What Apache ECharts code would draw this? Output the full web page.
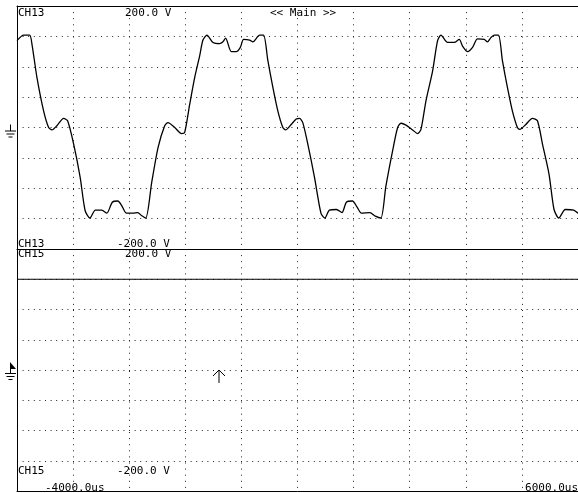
<!DOCTYPE html>
<html><head><meta charset="utf-8">
<script src="https://cdn.jsdelivr.net/npm/echarts@6/dist/echarts.min.js"></script>
<style>html,body{margin:0;padding:0;background:#fff}#c{width:578px;height:493px}</style>
</head><body><div id="c"></div>
<script>
// ---- data (time in microseconds, CH13 in volts) ----
const timeUs = [-4000,-3881,-3774,-3733,-3644,-3525,-3436,-3377,-3288,-3169,-3098,-2991,-2874,-2785,-2701,-2603,-2488,-2399,-2301,-2203,-2137,-2048,-1936,-1847,-1781,-1705,-1598,-1486,-1367,-1308,-1189,-1069,-1011,-922,-833,-744,-685,-614,-507,-388,-329,-281,-180,-91,-19,39,146,205,324,395,472,561,650,739,787,888,977,1036,1094,1183,1303,1418,1486,1570,1694,1792,1872,1979,2068,2139,2290,2388,2486,2575,2696,2785,2845,2934,3052,3141,3201,3290,3408,3497,3557,3675,3794,3883,3942,4031,4120,4209,4328,4387,4447,4506,4582,4653,4742,4831,4920,4963,5070,5188,5277,5366,5484,5573,5657,5774,5924,6000];
const ch13 = [143,152,152,137,82,27,0,-4,3,15,11,-27,-82,-137,-149,-136,-136,-141,-123,-121,-128,-141,-141,-140,-145,-149,-90,-33,3,8,0,-10,-8,38,82,118,144,152,140,138,141,147,125,125,132,145,144,141,152,152,110,66,27,0,-4,5,14,15,8,-27,-82,-141,-149,-136,-135,-140,-123,-121,-132,-141,-140,-146,-149,-97,-38,0,7,4,-4,-10,-3,44,93,143,152,140,140,145,134,125,132,146,145,141,148,152,152,110,66,27,0,-3,5,15,11,-27,-77,-135,-149,-135,-136,-141];
const ch15Time = [-4000, 6000];
const ch15 = [150, 150];
const timeMin = -4000, timeMax = 6000, timeStep = 1000;
const voltMin = -200, voltMax = 200, voltStep = 50;
const labels = {
  ch13: 'CH13', ch15: 'CH15', top: '200.0 V', bottom: '-200.0 V', main: '<< Main >>',
  tStart: '-4000.0us', tEnd: '6000.0us'
};

const chart = echarts.init(document.getElementById('c'), null, {renderer: 'canvas'});
const FONT = '"DejaVu Sans Mono", "Liberation Mono", monospace';
const dotH = {type: [1, 4.6], color: '#222', width: 1};
const dotV = {type: [1, 5.1], color: '#222', width: 1};
const solid = {show:true, lineStyle:{color:'#000', width:1}};
function xAx(i, pos, grid){
  return {type:'value', gridIndex:i, position:pos, min:timeMin, max:timeMax, interval:timeStep,
    axisLine: solid, axisTick:{show:false}, axisLabel:{show:false},
    splitLine:{show:grid, lineStyle:dotV, showMinLine:false, showMaxLine:false}};
}
function yAx(i){
  return {type:'value', gridIndex:i, min:voltMin, max:voltMax, interval:voltStep,
    axisLine: {show:true, onZero:false, lineStyle:{color:'#000', width:1}}, axisTick:{show:false}, axisLabel:{show:false},
    splitLine:{show:true, lineStyle:dotH, showMinLine:false, showMaxLine:false}};
}
const xa0 = xAx(0,'bottom',true), xa1 = xAx(1,'bottom',true), xaTop = xAx(0,'top',false);
xa0.axisLine.onZero = false;
chart.setOption({
  animation:false,
  backgroundColor:'#fff',
  grid:[
    {left:17, top:6, width:562, height:243, show:false},
    {left:17, top:249, width:562, height:242, show:false}
  ],
  xAxis:[
    Object.assign(xa0, {axisLine:{show:true, onZero:false, lineStyle:{color:'#000', width:1}}}),
    Object.assign(xa1, {axisLine:{show:true, onZero:false, lineStyle:{color:'#000', width:1}}}),
    Object.assign(xaTop, {axisLine:{show:true, onZero:false, lineStyle:{color:'#000', width:1}}})
  ],
  yAxis:[yAx(0), yAx(1)],
  series:[
    {type:'line', xAxisIndex:0, yAxisIndex:0, data: timeUs.map((t,i)=>[t, ch13[i]]),
     showSymbol:false, smooth:0.25, lineStyle:{color:'#000', width:1.3}, clip:true},
    {type:'line', xAxisIndex:1, yAxisIndex:1, data: ch15Time.map((t,i)=>[t, ch15[i]]),
     showSymbol:false, lineStyle:{color:'#000', width:1}, clip:true}
  ]
});

const y0a = chart.convertToPixel({yAxisIndex:0}, 0);
const y0b = chart.convertToPixel({yAxisIndex:1}, 0);
function txt(x, y, s, align){
  return {type:'text', x:x, y:y, style:{text:s, font:'11px ' + FONT, fill:'#000', align:align||'left', verticalAlign:'middle'}, z:10};
}
function ground(y0){
  const ls = {stroke:'#000', lineWidth:1};
  return [
    {type:'line', shape:{x1:10.5, y1:y0-3, x2:10.5, y2:y0+3.5}, style:ls},
    {type:'line', shape:{x1:5, y1:y0+3.5, x2:16, y2:y0+3.5}, style:ls},
    {type:'line', shape:{x1:6.5, y1:y0+6.5, x2:14.5, y2:y0+6.5}, style:ls},
    {type:'line', shape:{x1:8.5, y1:y0+9.5, x2:12.5, y2:y0+9.5}, style:ls}
  ];
}
const els = [
  txt(18, 12.7, labels.ch13), txt(125, 12.7, labels.top), txt(270, 12.7, labels.main),
  txt(18, 244, labels.ch13), txt(117, 244, labels.bottom),
  txt(18, 254, labels.ch15), txt(125, 254, labels.top),
  txt(18, 471, labels.ch15), txt(117, 471, labels.bottom),
  txt(45, 488, labels.tStart), txt(578, 488, labels.tEnd, 'right'),
  ...ground(y0a), ...ground(y0b),
  {type:'polygon', shape:{points:[[10,y0b-8],[16,y0b-1],[10,y0b-1]]}, style:{fill:'#000'}},
  {type:'polyline', shape:{points:[[213,376],[219,370],[225,376]]}, style:{stroke:'#000', lineWidth:1, fill:null}},
  {type:'line', shape:{x1:219, y1:370, x2:219, y2:383}, style:{stroke:'#000', lineWidth:1}}
];
chart.setOption({graphic:{elements:els}});
</script>
</body></html>
